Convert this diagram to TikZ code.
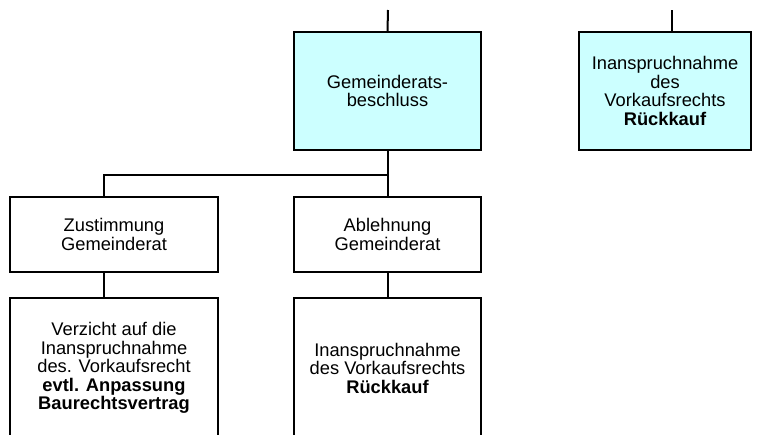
\documentclass[tikz,border=0pt]{standalone}
\usepackage{fontspec}
\setmainfont{Liberation Sans}
\usetikzlibrary{positioning}
\definecolor{cBox}{HTML}{CCFFFF}

\begin{document}
\begin{tikzpicture}[x=1pt,y=-1pt,line width=2pt,node distance=24pt,
    every node/.style={draw,align=center,inner sep=0pt,font=\fontsize{18.3}{18.5}\selectfont}]
  \useasboundingbox (0,0) rectangle (757,434);
  \clip (0,0) rectangle (757,434);
  % upper row
  \node[fill=cBox,minimum width=187pt,minimum height=118pt] (gr) at (387.5,91) {Gemeinderats-\\beschluss};
  \node[fill=cBox,minimum width=172pt,minimum height=118pt] (vk) at (665,91) {Inanspruchnahme\\des\\Vorkaufsrechts\\\textbf{Rückkauf}};
  \coordinate (grin) at (388,10);
  \coordinate (vkin) at (672,10);
  % decision row
  \node[minimum width=208pt,minimum height=75pt] (zu) at (114,234.5) {Zustimmung\\Gemeinderat};
  \node[minimum width=187pt,minimum height=75pt] (ab) at (387.5,234.5) {Ablehnung\\Gemeinderat};
  % consequences
  \node[minimum width=208pt,minimum height=140pt,below=of zu] (vz) {Verzicht auf die\\Inanspruchnahme\\des. Vorkaufsrecht\\\textbf{evtl. Anpassung}\\\textbf{Baurechtsvertrag}};
  \node[minimum width=187pt,minimum height=140pt,below=of ab] (rk) {Inanspruchnahme\\des Vorkaufsrechts\\\textbf{Rückkauf}};
  % connectors
  \draw (grin) -- (gr.north);
  \draw (vkin) -- ([xshift=7pt]vk.north);
  \draw (gr.south) -- (ab.north);
  \draw (gr.south) ++(0,24) -| ([xshift=-10pt]zu.north);
  \draw ([xshift=-10pt]zu.south) -- ([xshift=-10pt]vz.north);
  \draw (ab.south) -- (rk.north);
\end{tikzpicture}
\end{document}
